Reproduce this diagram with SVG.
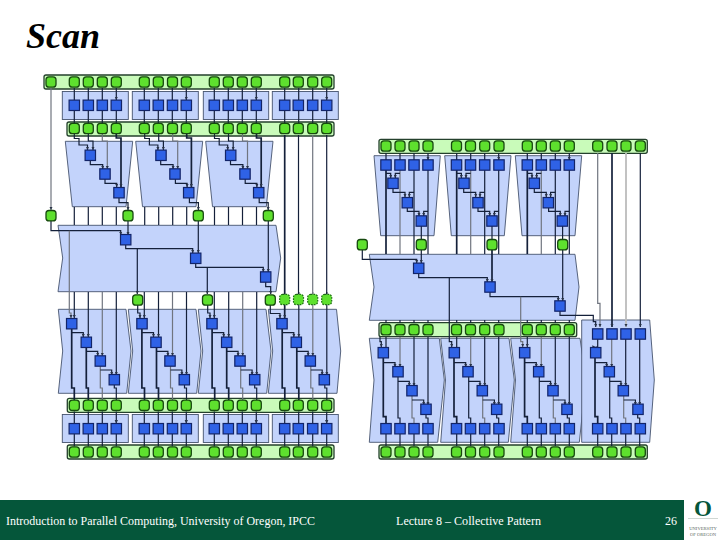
<svg xmlns="http://www.w3.org/2000/svg" xmlns:xlink="http://www.w3.org/1999/xlink" width="720" height="540" viewBox="0 0 720 540">
<style>
.b{fill:#c3d3fb;stroke:#46536e;stroke-width:.9}
.bar{fill:#c9fbba;stroke:#24402c;stroke-width:1.3}
.c path,path.k{fill:none;stroke:#14203a;stroke-width:1.2}
path.m{stroke:#70757f}
path.h{stroke-width:1.7}
path.l{stroke:#bcbcbc;stroke-width:1.8}
path.a{marker-end:url(#ah)}
text{font-family:"Liberation Serif","Times New Roman",serif}
.f{fill:#fff;font-size:12px}
</style>
<defs>
<marker id="ah" markerUnits="userSpaceOnUse" markerWidth="4" markerHeight="4" refX="3.4" refY="2" orient="auto"><path d="M0 .3L3.5 2L0 3.7z" fill="#2a3448"/></marker>
<rect id="g" x="-5" y="-5.2" width="10" height="10.4" rx="3" fill="#5ee02e" stroke="#17490f" stroke-width="1.3"/>
<rect id="d" x="-5" y="-5.2" width="10" height="10.4" rx="3" fill="#5ee02e" stroke="#1d6a14" stroke-width="1.2" stroke-dasharray="1.6 1.2"/>
<rect id="u" x="-5.2" y="-5.2" width="10.4" height="10.4" fill="#2f62e6" stroke="#122468" stroke-width="1.2"/>
<g id="LT" class="c">
<path class="a" d="M74.3 88V100M88.3 88V100M102.3 88V100M116.3 88V100"/>
<path d="M74.3 110V123M88.3 110V123M102.3 110V123M116.3 110V123"/>
</g>
<g id="LTr" class="c">
<path class="a" d="M74.3 134V138.5H79V145H87.5V150"/>
<path class="a" d="M88.3 134V141H93V150"/>
<path class="a m" d="M102.3 134V141H107.3V169"/>
<path class="a h" d="M116.3 134V138H121V187"/>
<path class="a" d="M90.3 160V164.7H102.7V169"/>
<path class="a" d="M105 179V183.3H116.7V187"/>
<path class="a" d="M119 198V202.7H128V210"/>
<path d="M74.3 207V225M88.3 207V225M102.3 207V225M116.3 207V225"/>
</g>
<g id="LS" class="c">
<path class="a" d="M88.3 292V337"/>
<path class="a m" d="M102.3 292V356"/>
<path class="a" d="M116.3 292V375"/>
<path class="h" d="M71.7 329V388H74.3V400"/>
<path class="a" d="M71.7 332.7H83.3V337"/>
<path class="h" d="M86.3 348V388H88.3V400"/>
<path class="a" d="M86.3 351.3H97.7V356"/>
<path class="m" d="M100.3 366V388H102.3V400"/>
<path class="a" d="M100.3 370H111.7V375"/>
<path d="M114.3 385V388H116.3V400"/>
</g>
<g id="RT" class="c">
<path class="a" d="M386 153V160M400 153V160M414 153V160M428 153V160"/>
<path class="h" d="M386 170V254"/>
<path class="m" d="M400 170V254"/>
<path d="M414 170V254M428 170V254"/>
<path class="a" d="M386 173.3H390.7V178"/>
<path class="a" d="M400 173.3H395.3V178"/>
<path class="a" d="M393 189V192.3H405V197"/>
<path class="a" d="M414 192.3H409.3V197"/>
<path class="a" d="M407.3 208V211.3H419V216"/>
<path class="a" d="M428 211.3H423.7V216"/>
<path d="M421.3 226V239"/>
</g>
<g id="RS" class="c">
<path class="a m" d="M400 337V367"/>
<path class="a" d="M414 337V386"/>
<path class="a" d="M428 337V405"/>
<path class="h" d="M383.3 358V416.7H386V423"/>
<path class="a" d="M383.3 362.7H395V367"/>
<path d="M398 377V418H400V423"/>
<path class="a" d="M398 381.3H409.3V386"/>
<path class="m" d="M412 395V418H414V423"/>
<path class="a" d="M412 400H423.7V405"/>
<path d="M426 414V418H428V423"/>
<path d="M386 434V446M400 434V446M414 434V446M428 434V446"/>
</g>
</defs>
<rect width="720" height="540" fill="#fff"/>
<text x="26" y="48" font-size="36" font-style="italic" font-weight="bold">Scan</text>

<g id="footer"><rect x="0" y="500" width="684" height="40" fill="#05563a"/>
<text class="f" x="6" y="525" textLength="309" lengthAdjust="spacingAndGlyphs">Introduction to Parallel Computing, University of Oregon, IPCC</text>
<text class="f" x="396" y="525" textLength="145" lengthAdjust="spacingAndGlyphs">Lecture 8 – Collective Pattern</text>
<text class="f" x="665" y="525">26</text>
<text x="703" y="516" font-size="23" font-weight="bold" text-anchor="middle" fill="#05563a">O</text>
<path d="M688 518.5H718" stroke="#c4cdc8" stroke-width=".8"/>
<text x="703" y="530" font-size="4.6" text-anchor="middle" fill="#5a6660">UNIVERSITY</text>
<text x="703" y="536" font-size="4.6" text-anchor="middle" fill="#5a6660">OF OREGON</text>
</g>

<g id="blocks">
<g id="LB1"><rect class="b" x="62.3" y="91.5" width="66" height="28"/></g>
<g id="LB2"><rect class="b" x="132.3" y="91.5" width="66" height="28"/></g>
<g id="LB3"><rect class="b" x="203.3" y="91.5" width="65.4" height="28"/></g>
<g id="LB4"><rect class="b" x="272.3" y="91.5" width="66" height="28"/></g>
<g id="LT1"><polygon class="b" points="65.3,141.3 132.7,141.3 126,206.7 72.3,206.7"/></g>
<g id="LT2"><polygon class="b" points="135.7,141.3 202.7,141.3 196,206.7 142.5,206.7"/></g>
<g id="LT3"><polygon class="b" points="205.7,141.3 273,141.3 266.3,206.7 212.5,206.7"/></g>
<g id="LM"><polygon class="b" points="58,225.3 276,225.3 280.7,258 276,291.7 58,291.7 62.7,258"/></g>
<g id="LS1"><polygon class="b" points="58.3,309.3 126,309.3 131,351 126.7,393.3 58.3,393.3 62.7,351"/></g>
<g id="LS2"><polygon class="b" points="128.3,309.3 196,309.3 201,351 196.7,393.3 128.3,393.3 132.7,351"/></g>
<g id="LS3"><polygon class="b" points="198.3,309.3 266,309.3 271,351 266.7,393.3 198.3,393.3 202.7,351"/></g>
<g id="LS4"><polygon class="b" points="268.3,309.3 336.5,309.3 340.7,351 337,393.3 268.3,393.3 272.7,351"/></g>
<g id="LB5"><rect class="b" x="62.3" y="414.5" width="66" height="28"/></g>
<g id="LB6"><rect class="b" x="132.3" y="414.5" width="66" height="28"/></g>
<g id="LB7"><rect class="b" x="203.3" y="414.5" width="65.4" height="28"/></g>
<g id="LB8"><rect class="b" x="272.3" y="414.5" width="66" height="28"/></g>
<g id="LBar1"><rect class="bar" x="44" y="75" width="290" height="14" rx="2"/></g>
<g id="LBar2"><rect class="bar" x="67" y="122" width="267" height="14" rx="2"/></g>
<g id="LBar3"><rect class="bar" x="67.3" y="398.3" width="266.7" height="14" rx="2"/></g>
<g id="LBar4"><rect class="bar" x="67.3" y="445" width="266.7" height="14" rx="2"/></g>
<g id="RT1"><polygon class="b" points="374,155.7 440.3,155.7 434,235.7 380.7,235.7"/></g>
<g id="RT2"><polygon class="b" points="444.7,155.7 511,155.7 504.3,235.7 451.3,235.7"/></g>
<g id="RT3"><polygon class="b" points="515.3,155.7 581.7,155.7 575,235.7 522,235.7"/></g>
<g id="RM"><polygon class="b" points="369.3,254.3 575,254.3 579,287 575,320.3 369.3,320.3 374,287"/></g>
<g id="RS1"><polygon class="b" points="369.3,338.3 439.3,338.3 444.3,380 437.7,442.3 369.3,442.3 374,380"/></g>
<g id="RS2"><polygon class="b" points="440.7,338.3 509,338.3 514.3,380 508.3,442.3 440.7,442.3 445.5,380"/></g>
<g id="RS3"><polygon class="b" points="510.7,338.3 580,338.3 586,380 579.3,442.3 510.7,442.3 515.5,380"/></g>
<g id="RS4"><polygon class="b" points="581.7,320 649.7,320 654.3,380 649.7,442.3 581.7,442.3"/></g>
<g id="RBar1"><rect class="bar" x="379" y="139.3" width="268.3" height="14" rx="2"/></g>
<g id="RBar2"><rect class="bar" x="379" y="322.7" width="197.7" height="14" rx="2"/></g>
<g id="RBar3"><rect class="bar" x="379" y="445" width="268.3" height="14" rx="2"/></g>
</g>

<g id="connectors" class="c">
<use href="#LT"/><use href="#LT" x="70"/><use href="#LT" x="140"/><use href="#LT" x="210.4"/>
<use href="#LT" y="323.5"/><use href="#LT" x="70" y="323.5"/><use href="#LT" x="140" y="323.5"/><use href="#LT" x="210.4" y="323.5"/>
<use href="#LTr"/><use href="#LTr" x="70.4"/><use href="#LTr" x="140.2"/>
<use href="#LS"/><use href="#LS" x="70.2"/><use href="#LS" x="140.4"/><use href="#LS" x="210.5"/>
<path class="a m" d="M51 88V210"/>
<path class="a" d="M51 221V230.7H120.7V235"/>
<path class="a m" d="M69.3 230.7V313H71V318"/>
<path class="a" d="M128 221V235"/>
<path class="a" d="M125.7 245V248.7H192.7V253"/>
<path class="a" d="M137.3 248.7V294"/>
<path class="a" d="M198.3 221V253"/>
<path class="a" d="M195.7 263V267.3H263.3V272"/>
<path class="a" d="M207.3 267.3V294"/>
<path class="a" d="M268.3 221V272"/>
<path class="a" d="M265.7 282V286.7H270.7V294"/>
<path class="a" d="M137.7 305V313H140V318"/>
<path class="a" d="M207.7 305V313H210V318"/>
<path class="a" d="M270.3 305V313.5H280V318"/>
<path class="a" d="M74.3 292V318"/>
<path class="a" d="M144.3 292V318"/>
<path class="a" d="M214.3 292V318"/>
<path class="a h" d="M284.7 135V318"/>
<path d="M298.5 135V294"/>
<path class="m" d="M312.7 135V294"/>
<path d="M326.7 135V294"/>

<use href="#RT"/><use href="#RT" x="70.7"/><use href="#RT" x="141.3"/>
<use href="#RS"/><use href="#RS" x="70.7"/><use href="#RS" x="141.3"/><use href="#RS" x="211.7"/>
<path class="a" d="M362.3 250V259.3H416.7V263"/>
<path class="a" d="M421.3 250V263"/>
<path class="a" d="M418.7 273V277.7H487.3V282"/>
<path class="a" d="M449.3 277.7V341.7H451.7V347"/>
<path class="a h" d="M492 250V282"/>
<path class="a" d="M490 292V296.7H558.3V301"/>
<path class="a m" d="M520.7 296.7V341.7H522.7V347"/>
<path class="a" d="M562.7 250V301"/>
<path class="a" d="M560 311V315.3H593.3V321.7H595.7V327"/>
<path class="a m" d="M597.7 153V303.3H600V327"/>
<path class="a h" d="M612 153V327"/>
<path class="a l" d="M626 153V327"/>
<path class="a" d="M640.3 153V327"/>
<path d="M386 320V323M400 320V323M414 320V323M428 320V323M456.7 320V323M470.7 320V323M484.7 320V323M498.7 320V323M527.3 320V323M541.3 320V323M555.3 320V323M569.3 320V323"/>
<path class="a" d="M380 337V341.7H381.3V347"/>
<path class="a" d="M386 337V347M456.7 337V347M527.3 337V347"/>
<path class="a" d="M597.7 339V347H595.7V347"/>
</g>

<g id="n1"><use href="#g" x="51" y="82"/></g>
<g id="n2"><use href="#g" x="74.3" y="82"/></g><g id="n3"><use href="#g" x="88.3" y="82"/></g><g id="n4"><use href="#g" x="102.3" y="82"/></g><g id="n5"><use href="#g" x="116.3" y="82"/></g>
<g id="n6"><use href="#g" x="144.3" y="82"/></g><g id="n7"><use href="#g" x="158.3" y="82"/></g><g id="n8"><use href="#g" x="172.5" y="82"/></g><g id="n9"><use href="#g" x="186.3" y="82"/></g>
<g id="n10"><use href="#g" x="214.3" y="82"/></g><g id="n11"><use href="#g" x="228.3" y="82"/></g><g id="n12"><use href="#g" x="242.3" y="82"/></g><g id="n13"><use href="#g" x="256.3" y="82"/></g>
<g id="n14"><use href="#g" x="284.7" y="82"/></g><g id="n15"><use href="#g" x="298.3" y="82"/></g><g id="n16"><use href="#g" x="312.7" y="82"/></g><g id="n17"><use href="#g" x="326.7" y="82"/></g>

<g id="n18"><use href="#u" x="74.3" y="105.3"/></g><g id="n19"><use href="#u" x="88.3" y="105.3"/></g><g id="n20"><use href="#u" x="102.3" y="105.3"/></g><g id="n21"><use href="#u" x="116.3" y="105.3"/></g>
<g id="n22"><use href="#u" x="144.3" y="105.3"/></g><g id="n23"><use href="#u" x="158.3" y="105.3"/></g><g id="n24"><use href="#u" x="172.5" y="105.3"/></g><g id="n25"><use href="#u" x="186.3" y="105.3"/></g>
<g id="n26"><use href="#u" x="214.3" y="105.3"/></g><g id="n27"><use href="#u" x="228.3" y="105.3"/></g><g id="n28"><use href="#u" x="242.3" y="105.3"/></g><g id="n29"><use href="#u" x="256.3" y="105.3"/></g>
<g id="n30"><use href="#u" x="284.7" y="105.3"/></g><g id="n31"><use href="#u" x="298.3" y="105.3"/></g><g id="n32"><use href="#u" x="312.7" y="105.3"/></g><g id="n33"><use href="#u" x="326.7" y="105.3"/></g>

<g id="n34"><use href="#g" x="74.3" y="128.5"/></g><g id="n35"><use href="#g" x="88.3" y="128.5"/></g><g id="n36"><use href="#g" x="102.3" y="128.5"/></g><g id="n37"><use href="#g" x="116.3" y="128.5"/></g>
<g id="n38"><use href="#g" x="144.3" y="128.5"/></g><g id="n39"><use href="#g" x="158.3" y="128.5"/></g><g id="n40"><use href="#g" x="172.5" y="128.5"/></g><g id="n41"><use href="#g" x="186.3" y="128.5"/></g>
<g id="n42"><use href="#g" x="214.3" y="128.5"/></g><g id="n43"><use href="#g" x="228.3" y="128.5"/></g><g id="n44"><use href="#g" x="242.3" y="128.5"/></g><g id="n45"><use href="#g" x="256.3" y="128.5"/></g>
<g id="n46"><use href="#g" x="284.7" y="128.5"/></g><g id="n47"><use href="#g" x="298.3" y="128.5"/></g><g id="n48"><use href="#g" x="312.7" y="128.5"/></g><g id="n49"><use href="#g" x="326.7" y="128.5"/></g>

<g id="n50"><use href="#u" x="90.3" y="155.3"/></g><g id="n51"><use href="#u" x="105" y="174"/></g><g id="n52"><use href="#u" x="119" y="192.7"/></g>
<g id="n53"><use href="#u" x="161" y="155.3"/></g><g id="n54"><use href="#u" x="175" y="174"/></g><g id="n55"><use href="#u" x="188.7" y="192.7"/></g>
<g id="n56"><use href="#u" x="230.7" y="155.3"/></g><g id="n57"><use href="#u" x="245" y="174"/></g><g id="n58"><use href="#u" x="258.7" y="192.7"/></g>

<g id="n59"><use href="#g" x="51" y="215.7"/></g><g id="n60"><use href="#g" x="128" y="215.7"/></g><g id="n61"><use href="#g" x="198.3" y="215.7"/></g><g id="n62"><use href="#g" x="268.3" y="215.7"/></g>
<g id="n63"><use href="#u" x="125.7" y="239.7"/></g><g id="n64"><use href="#u" x="195.7" y="258.3"/></g><g id="n65"><use href="#u" x="265.7" y="277"/></g>
<g id="n66"><use href="#g" x="137.7" y="300"/></g><g id="n67"><use href="#g" x="207.5" y="300"/></g><g id="n68"><use href="#g" x="270.3" y="300"/></g>
<g id="n69"><use href="#d" x="284.7" y="299.5"/></g><g id="n70"><use href="#d" x="298.5" y="299.5"/></g><g id="n71"><use href="#d" x="312.7" y="299.5"/></g><g id="n72"><use href="#d" x="326.7" y="299.5"/></g>

<g id="n73"><use href="#u" x="71.7" y="323.7"/></g><g id="n74"><use href="#u" x="86.3" y="342.3"/></g><g id="n75"><use href="#u" x="100.3" y="361"/></g><g id="n76"><use href="#u" x="114.3" y="379.7"/></g>
<g id="n77"><use href="#u" x="142" y="323.7"/></g><g id="n78"><use href="#u" x="156" y="342.3"/></g><g id="n79"><use href="#u" x="170" y="361"/></g><g id="n80"><use href="#u" x="184.3" y="379.7"/></g>
<g id="n81"><use href="#u" x="212" y="323.7"/></g><g id="n82"><use href="#u" x="226.7" y="342.3"/></g><g id="n83"><use href="#u" x="240" y="361"/></g><g id="n84"><use href="#u" x="254.7" y="379.7"/></g>
<g id="n85"><use href="#u" x="282" y="323.7"/></g><g id="n86"><use href="#u" x="296.3" y="342.3"/></g><g id="n87"><use href="#u" x="310.3" y="361"/></g><g id="n88"><use href="#u" x="324.3" y="379.7"/></g>

<g id="n89"><use href="#g" x="74.3" y="405.3"/></g><g id="n90"><use href="#g" x="88.3" y="405.3"/></g><g id="n91"><use href="#g" x="102.3" y="405.3"/></g><g id="n92"><use href="#g" x="116.3" y="405.3"/></g>
<g id="n93"><use href="#g" x="144.3" y="405.3"/></g><g id="n94"><use href="#g" x="158.3" y="405.3"/></g><g id="n95"><use href="#g" x="172.5" y="405.3"/></g><g id="n96"><use href="#g" x="186.3" y="405.3"/></g>
<g id="n97"><use href="#g" x="214.3" y="405.3"/></g><g id="n98"><use href="#g" x="228.3" y="405.3"/></g><g id="n99"><use href="#g" x="242.3" y="405.3"/></g><g id="n100"><use href="#g" x="256.3" y="405.3"/></g>
<g id="n101"><use href="#g" x="284.7" y="405.3"/></g><g id="n102"><use href="#g" x="298.3" y="405.3"/></g><g id="n103"><use href="#g" x="312.7" y="405.3"/></g><g id="n104"><use href="#g" x="326.7" y="405.3"/></g>

<g id="n105"><use href="#u" x="74.3" y="428.7"/></g><g id="n106"><use href="#u" x="88.3" y="428.7"/></g><g id="n107"><use href="#u" x="102.3" y="428.7"/></g><g id="n108"><use href="#u" x="116.3" y="428.7"/></g>
<g id="n109"><use href="#u" x="144.3" y="428.7"/></g><g id="n110"><use href="#u" x="158.3" y="428.7"/></g><g id="n111"><use href="#u" x="172.5" y="428.7"/></g><g id="n112"><use href="#u" x="186.3" y="428.7"/></g>
<g id="n113"><use href="#u" x="214.3" y="428.7"/></g><g id="n114"><use href="#u" x="228.3" y="428.7"/></g><g id="n115"><use href="#u" x="242.3" y="428.7"/></g><g id="n116"><use href="#u" x="256.3" y="428.7"/></g>
<g id="n117"><use href="#u" x="284.7" y="428.7"/></g><g id="n118"><use href="#u" x="298.3" y="428.7"/></g><g id="n119"><use href="#u" x="312.7" y="428.7"/></g><g id="n120"><use href="#u" x="326.7" y="428.7"/></g>

<g id="n121"><use href="#g" x="74.3" y="452"/></g><g id="n122"><use href="#g" x="88.3" y="452"/></g><g id="n123"><use href="#g" x="102.3" y="452"/></g><g id="n124"><use href="#g" x="116.3" y="452"/></g>
<g id="n125"><use href="#g" x="144.3" y="452"/></g><g id="n126"><use href="#g" x="158.3" y="452"/></g><g id="n127"><use href="#g" x="172.5" y="452"/></g><g id="n128"><use href="#g" x="186.3" y="452"/></g>
<g id="n129"><use href="#g" x="214.3" y="452"/></g><g id="n130"><use href="#g" x="228.3" y="452"/></g><g id="n131"><use href="#g" x="242.3" y="452"/></g><g id="n132"><use href="#g" x="256.3" y="452"/></g>
<g id="n133"><use href="#g" x="284.7" y="452"/></g><g id="n134"><use href="#g" x="298.3" y="452"/></g><g id="n135"><use href="#g" x="312.7" y="452"/></g><g id="n136"><use href="#g" x="326.7" y="452"/></g>

<g id="r1"><use href="#g" x="386" y="146"/></g><g id="r2"><use href="#g" x="400" y="146"/></g><g id="r3"><use href="#g" x="414" y="146"/></g><g id="r4"><use href="#g" x="428" y="146"/></g>
<g id="r5"><use href="#g" x="456.5" y="146"/></g><g id="r6"><use href="#g" x="470.5" y="146"/></g><g id="r7"><use href="#g" x="484.7" y="146"/></g><g id="r8"><use href="#g" x="499" y="146"/></g>
<g id="r9"><use href="#g" x="527.3" y="146"/></g><g id="r10"><use href="#g" x="541.3" y="146"/></g><g id="r11"><use href="#g" x="555.3" y="146"/></g><g id="r12"><use href="#g" x="569.3" y="146"/></g>
<g id="r13"><use href="#g" x="597.7" y="146"/></g><g id="r14"><use href="#g" x="612" y="146"/></g><g id="r15"><use href="#g" x="626" y="146"/></g><g id="r16"><use href="#g" x="640.3" y="146"/></g>

<g id="r17"><use href="#u" x="386" y="165"/></g><g id="r18"><use href="#u" x="400" y="165"/></g><g id="r19"><use href="#u" x="414" y="165"/></g><g id="r20"><use href="#u" x="428" y="165"/></g>
<g id="r21"><use href="#u" x="456.5" y="165"/></g><g id="r22"><use href="#u" x="470.5" y="165"/></g><g id="r23"><use href="#u" x="484.7" y="165"/></g><g id="r24"><use href="#u" x="499" y="165"/></g>
<g id="r25"><use href="#u" x="527.3" y="165"/></g><g id="r26"><use href="#u" x="541.3" y="165"/></g><g id="r27"><use href="#u" x="555.3" y="165"/></g><g id="r28"><use href="#u" x="569.3" y="165"/></g>

<g id="r29"><use href="#u" x="393" y="183.3"/></g><g id="r30"><use href="#u" x="407.3" y="202.7"/></g><g id="r31"><use href="#u" x="421.3" y="221"/></g>
<g id="r32"><use href="#u" x="464" y="183.3"/></g><g id="r33"><use href="#u" x="478" y="202.7"/></g><g id="r34"><use href="#u" x="492" y="221"/></g>
<g id="r35"><use href="#u" x="534.3" y="183.3"/></g><g id="r36"><use href="#u" x="548.3" y="202.7"/></g><g id="r37"><use href="#u" x="562.3" y="221"/></g>

<g id="r38"><use href="#g" x="362.3" y="244.7"/></g><g id="r39"><use href="#g" x="421.3" y="244.7"/></g><g id="r40"><use href="#g" x="492" y="244.7"/></g><g id="r41"><use href="#g" x="562.7" y="244.7"/></g>
<g id="r42"><use href="#u" x="418.7" y="268.3"/></g><g id="r43"><use href="#u" x="490" y="287"/></g><g id="r44"><use href="#u" x="560" y="306"/></g>

<g id="r45"><use href="#g" x="386" y="329.7"/></g><g id="r46"><use href="#g" x="400" y="329.7"/></g><g id="r47"><use href="#g" x="414" y="329.7"/></g><g id="r48"><use href="#g" x="428" y="329.7"/></g>
<g id="r49"><use href="#g" x="456.5" y="329.7"/></g><g id="r50"><use href="#g" x="470.5" y="329.7"/></g><g id="r51"><use href="#g" x="484.7" y="329.7"/></g><g id="r52"><use href="#g" x="499" y="329.7"/></g>
<g id="r53"><use href="#g" x="527.3" y="329.7"/></g><g id="r54"><use href="#g" x="541.3" y="329.7"/></g><g id="r55"><use href="#g" x="555.3" y="329.7"/></g><g id="r56"><use href="#g" x="569.3" y="329.7"/></g>
<g id="r57"><use href="#u" x="597.7" y="334"/></g><g id="r58"><use href="#u" x="612" y="334"/></g><g id="r59"><use href="#u" x="626" y="334"/></g><g id="r60"><use href="#u" x="640.3" y="334"/></g>

<g id="r61"><use href="#u" x="383.3" y="352.7"/></g><g id="r62"><use href="#u" x="398" y="371.7"/></g><g id="r63"><use href="#u" x="412" y="390.7"/></g><g id="r64"><use href="#u" x="426" y="409.3"/></g>
<g id="r65"><use href="#u" x="454.3" y="352.7"/></g><g id="r66"><use href="#u" x="468" y="371.7"/></g><g id="r67"><use href="#u" x="482.3" y="390.7"/></g><g id="r68"><use href="#u" x="496.7" y="409.3"/></g>
<g id="r69"><use href="#u" x="524.7" y="352.7"/></g><g id="r70"><use href="#u" x="538.7" y="371.7"/></g><g id="r71"><use href="#u" x="553" y="390.7"/></g><g id="r72"><use href="#u" x="567" y="409.3"/></g>
<g id="r73"><use href="#u" x="595.7" y="352.7"/></g><g id="r74"><use href="#u" x="609.3" y="371.7"/></g><g id="r75"><use href="#u" x="623.3" y="390.7"/></g><g id="r76"><use href="#u" x="638" y="409.3"/></g>

<g id="r77"><use href="#u" x="386" y="428.7"/></g><g id="r78"><use href="#u" x="400" y="428.7"/></g><g id="r79"><use href="#u" x="414" y="428.7"/></g><g id="r80"><use href="#u" x="428" y="428.7"/></g>
<g id="r81"><use href="#u" x="456.5" y="428.7"/></g><g id="r82"><use href="#u" x="470.5" y="428.7"/></g><g id="r83"><use href="#u" x="484.7" y="428.7"/></g><g id="r84"><use href="#u" x="499" y="428.7"/></g>
<g id="r85"><use href="#u" x="527.3" y="428.7"/></g><g id="r86"><use href="#u" x="541.3" y="428.7"/></g><g id="r87"><use href="#u" x="555.3" y="428.7"/></g><g id="r88"><use href="#u" x="569.3" y="428.7"/></g>
<g id="r89"><use href="#u" x="597.7" y="428.7"/></g><g id="r90"><use href="#u" x="612" y="428.7"/></g><g id="r91"><use href="#u" x="626" y="428.7"/></g><g id="r92"><use href="#u" x="640.3" y="428.7"/></g>

<g id="r93"><use href="#g" x="386" y="452"/></g><g id="r94"><use href="#g" x="400" y="452"/></g><g id="r95"><use href="#g" x="414" y="452"/></g><g id="r96"><use href="#g" x="428" y="452"/></g>
<g id="r97"><use href="#g" x="456.5" y="452"/></g><g id="r98"><use href="#g" x="470.5" y="452"/></g><g id="r99"><use href="#g" x="484.7" y="452"/></g><g id="r100"><use href="#g" x="499" y="452"/></g>
<g id="r101"><use href="#g" x="527.3" y="452"/></g><g id="r102"><use href="#g" x="541.3" y="452"/></g><g id="r103"><use href="#g" x="555.3" y="452"/></g><g id="r104"><use href="#g" x="569.3" y="452"/></g>
<g id="r105"><use href="#g" x="597.7" y="452"/></g><g id="r106"><use href="#g" x="612" y="452"/></g><g id="r107"><use href="#g" x="626" y="452"/></g><g id="r108"><use href="#g" x="640.3" y="452"/></g>
</svg>
